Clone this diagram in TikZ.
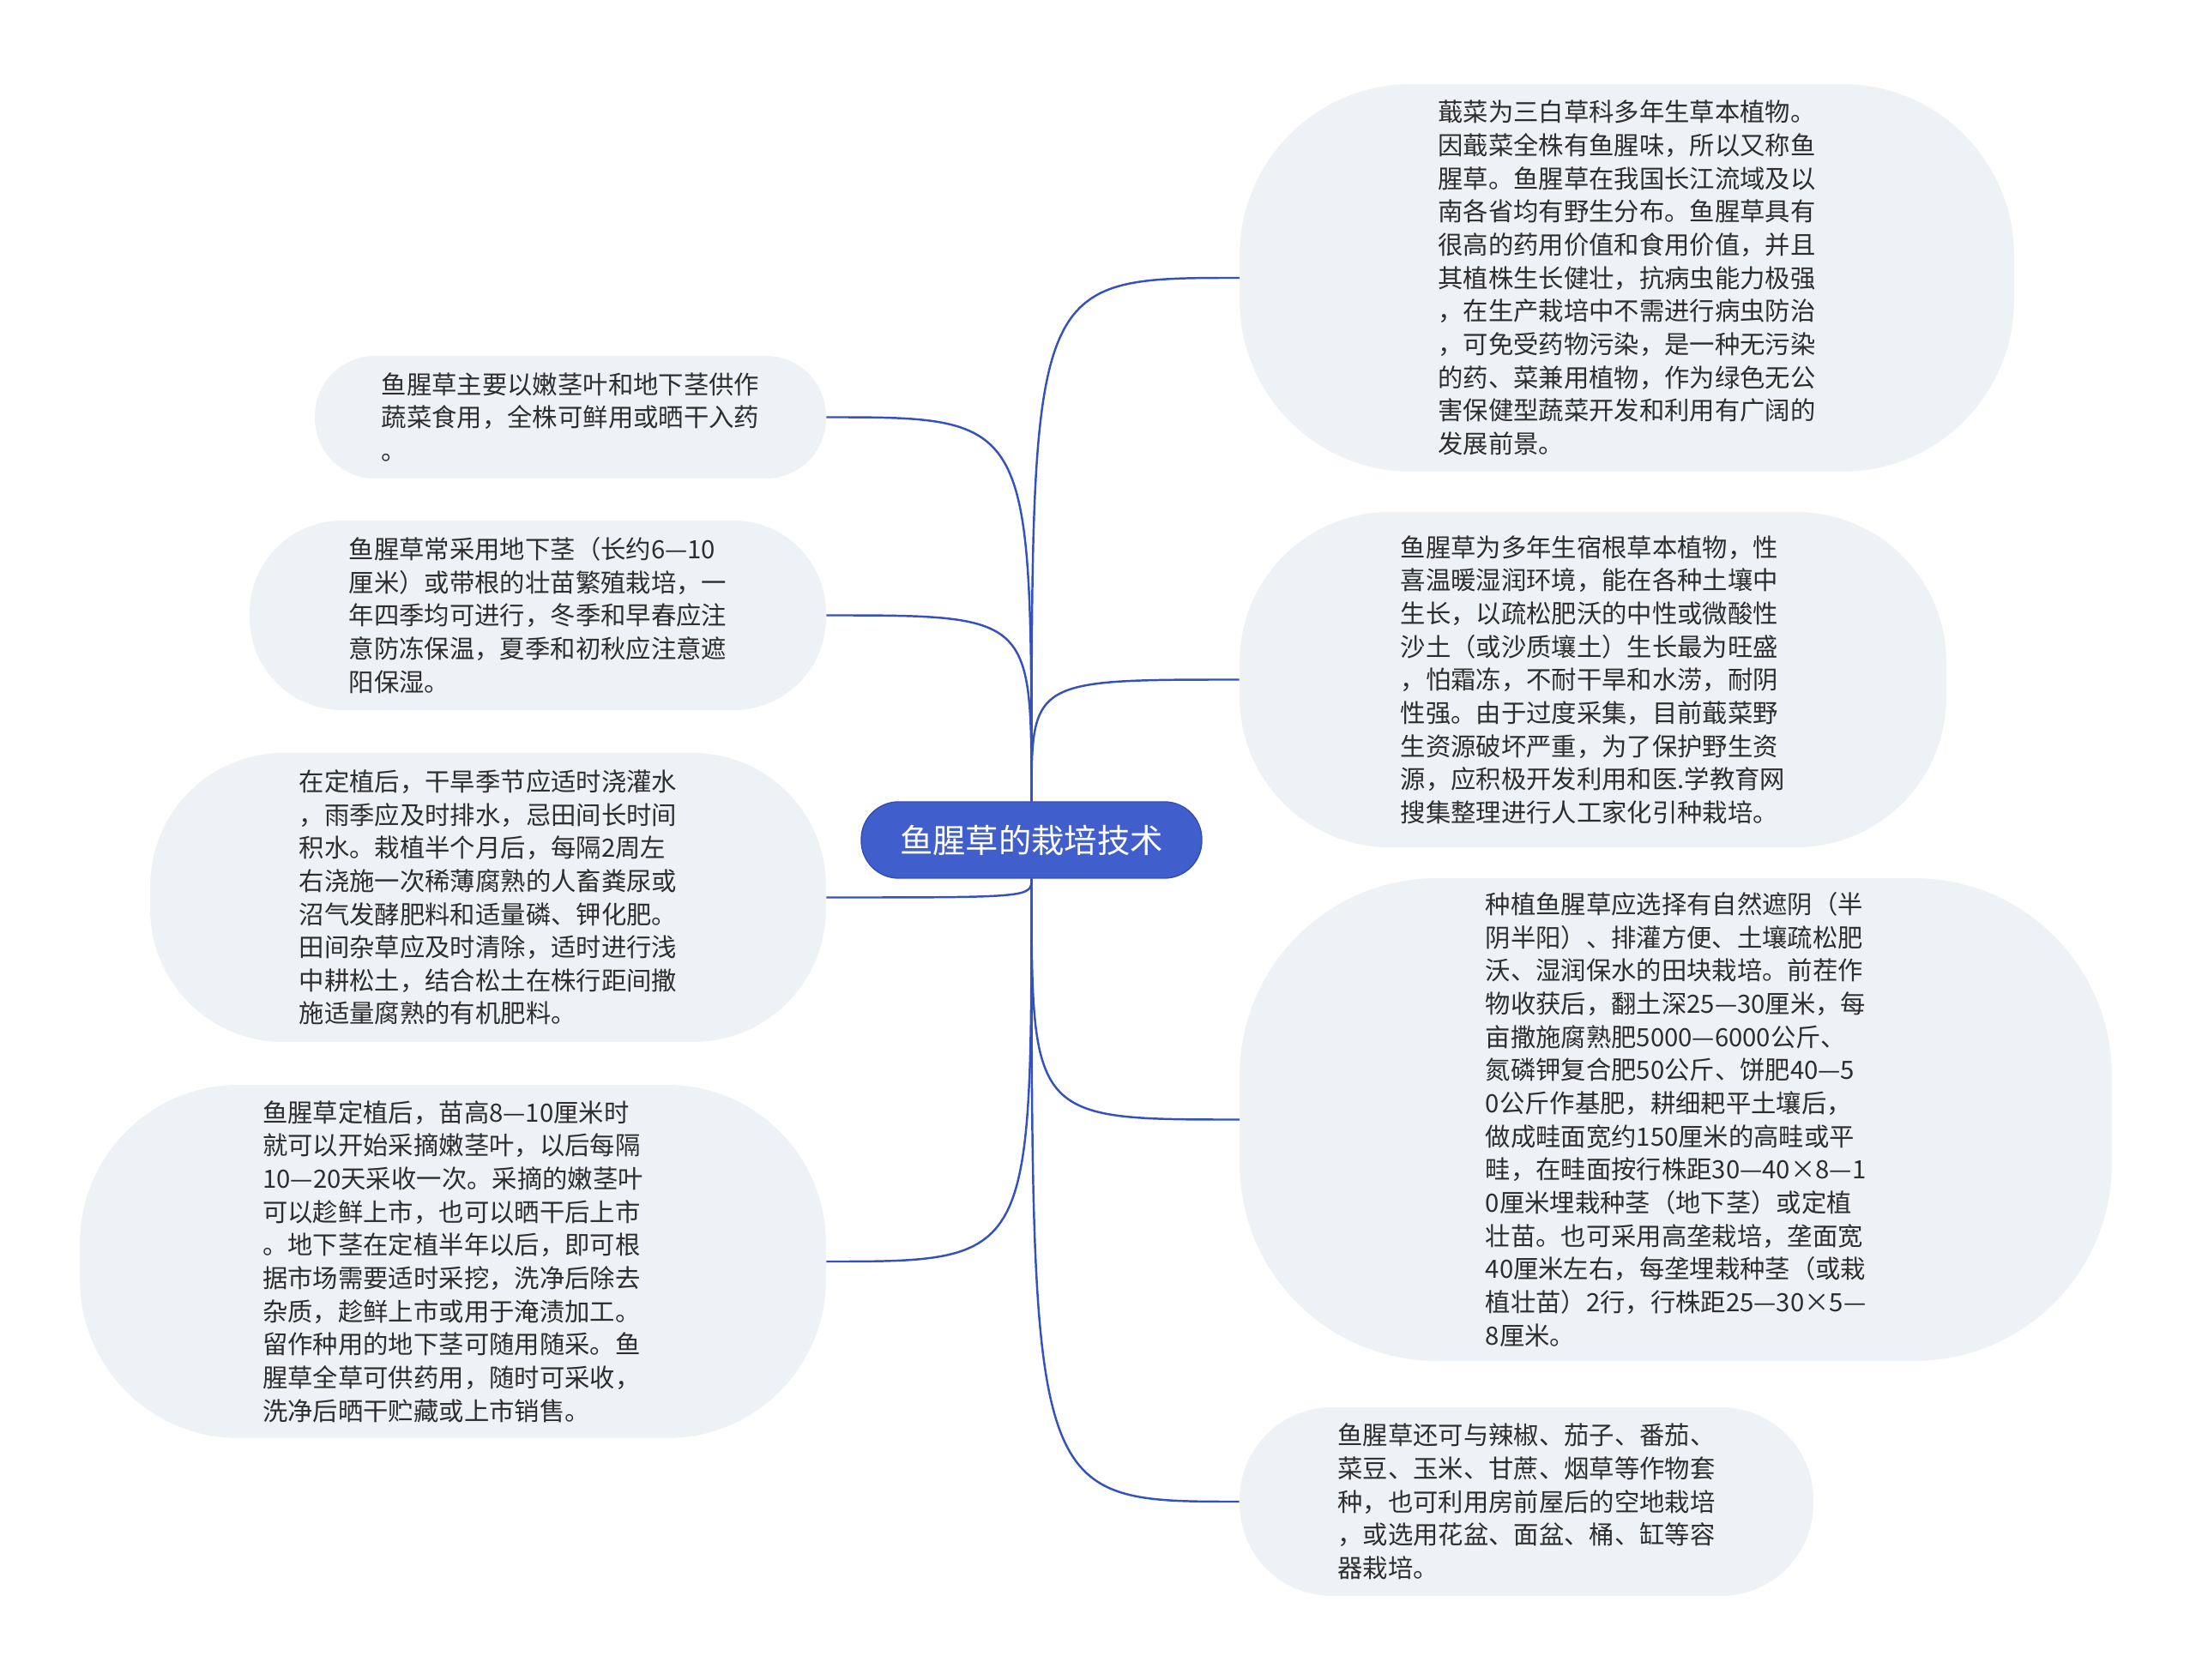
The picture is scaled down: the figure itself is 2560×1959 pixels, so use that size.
\documentclass[tikz,border=0pt]{standalone}
\usepackage{fontspec}
\setmainfont{Noto Sans CJK SC}
\usepackage{tikz}
\definecolor{rootblue}{RGB}{64,95,204}
\definecolor{rootedge}{RGB}{50,78,178}
\definecolor{linkblue}{RGB}{52,82,190}
\definecolor{leafgray}{RGB}{238,241,245}
\definecolor{textgray}{RGB}{45,45,45}
\tikzstyle{root} = [fill=rootblue, draw=rootedge, line width=0.8pt, text=white, rounded corners=0.87cm, minimum width=7.94cm, minimum height=1.78cm, inner sep=0pt, font=\fontsize{21.8}{26}\selectfont]
\tikzstyle{leaf} = [fill=leafgray, text=textgray, align=left, inner sep=0pt, font=\fontsize{16.7}{22}\selectfont]
\tikzstyle{link} = [draw=linkblue, line width=1.4pt]

\begin{document}
\begin{tikzpicture}[x=0.02cm, y=-0.02cm]
\useasboundingbox (0,0) rectangle (2560,1959);
\node[root] (root) at (1202.5,979.5) {鱼腥草的栽培技术};
% right side
\node[leaf, minimum width=18.06cm, minimum height=9.04cm, rounded corners=4cm] (r1) at (1896.5,324) {蕺菜为三白草科多年生草本植物。\\因蕺菜全株有鱼腥味，所以又称鱼\\腥草。鱼腥草在我国长江流域及以\\南各省均有野生分布。鱼腥草具有\\很高的药用价值和食用价值，并且\\其植株生长健壮，抗病虫能力极强\\，在生产栽培中不需进行病虫防治\\，可免受药物污染，是一种无污染\\的药、菜兼用植物，作为绿色无公\\害保健型蔬菜开发和利用有广阔的\\发展前景。};
\node[leaf, minimum width=16.48cm, minimum height=7.82cm, rounded corners=3.5cm] (r2) at (1857,792.5) {鱼腥草为多年生宿根草本植物，性\\喜温暖湿润环境，能在各种土壤中\\生长，以疏松肥沃的中性或微酸性\\沙土（或沙质壤土）生长最为旺盛\\，怕霜冻，不耐干旱和水涝，耐阴\\性强。由于过度采集，目前蕺菜野\\生资源破坏严重，为了保护野生资\\源，应积极开发利用和医.学教育网\\搜集整理进行人工家化引种栽培。};
\node[leaf, minimum width=20.34cm, minimum height=11.26cm, rounded corners=4.6cm] (r3) at (1953.5,1305.5) {种植鱼腥草应选择有自然遮阴（半\\阴半阳）、排灌方便、土壤疏松肥\\沃、湿润保水的田块栽培。前茬作\\物收获后，翻土深25—30厘米，每\\亩撒施腐熟肥5000—6000公斤、\\氮磷钾复合肥50公斤、饼肥40—5\\0公斤作基肥，耕细耙平土壤后，\\做成畦面宽约150厘米的高畦或平\\畦，在畦面按行株距30—40×8—1\\0厘米埋栽种茎（地下茎）或定植\\壮苗。也可采用高垄栽培，垄面宽\\40厘米左右，每垄埋栽种茎（或栽\\植壮苗）2行，行株距25—30×5—\\8厘米。};
\node[leaf, minimum width=13.38cm, minimum height=4.4cm, rounded corners=2.15cm] (r4) at (1779.5,1751) {鱼腥草还可与辣椒、茄子、番茄、\\菜豆、玉米、甘蔗、烟草等作物套\\种，也可利用房前屋后的空地栽培\\，或选用花盆、面盆、桶、缸等容\\器栽培。};
% left side
\node[leaf, minimum width=11.92cm, minimum height=2.86cm, rounded corners=1.4cm] (l1) at (665,486.5) {鱼腥草主要以嫩茎叶和地下茎供作\\蔬菜食用，全株可鲜用或晒干入药\\。};
\node[leaf, minimum width=13.44cm, minimum height=4.42cm, rounded corners=2.15cm] (l2) at (627,717.5) {鱼腥草常采用地下茎（长约6—10\\厘米）或带根的壮苗繁殖栽培，一\\年四季均可进行，冬季和早春应注\\意防冻保温，夏季和初秋应注意遮\\阳保湿。};
\node[leaf, minimum width=15.76cm, minimum height=6.74cm, rounded corners=3.1cm] (l3) at (569,1046.5) {在定植后，干旱季节应适时浇灌水\\，雨季应及时排水，忌田间长时间\\积水。栽植半个月后，每隔2周左\\右浇施一次稀薄腐熟的人畜粪尿或\\沼气发酵肥料和适量磷、钾化肥。\\田间杂草应及时清除，适时进行浅\\中耕松土，结合松土在株行距间撒\\施适量腐熟的有机肥料。};
\node[leaf, minimum width=17.4cm, minimum height=8.24cm, rounded corners=3.7cm] (l4) at (528,1471) {鱼腥草定植后，苗高8—10厘米时\\就可以开始采摘嫩茎叶，以后每隔\\10—20天采收一次。采摘的嫩茎叶\\可以趁鲜上市，也可以晒干后上市\\。地下茎在定植半年以后，即可根\\据市场需要适时采挖，洗净后除去\\杂质，趁鲜上市或用于淹渍加工。\\留作种用的地下茎可随用随采。鱼\\腥草全草可供药用，随时可采收，\\洗净后晒干贮藏或上市销售。};
% links
\draw[link] (root.north) .. controls (root.north |- r1.west) .. (r1.west);
\draw[link] (root.north) .. controls (root.north |- r2.west) .. (r2.west);
\draw[link] (root.south) .. controls (root.south |- r3.west) .. (r3.west);
\draw[link] (root.south) .. controls (root.south |- r4.west) .. (r4.west);
\draw[link] (root.north) .. controls (root.north |- l1.east) .. (l1.east);
\draw[link] (root.north) .. controls (root.north |- l2.east) .. (l2.east);
\draw[link] (root.south) .. controls (root.south |- l3.east) .. (l3.east);
\draw[link] (root.south) .. controls (root.south |- l4.east) .. (l4.east);
\end{tikzpicture}
\end{document}
